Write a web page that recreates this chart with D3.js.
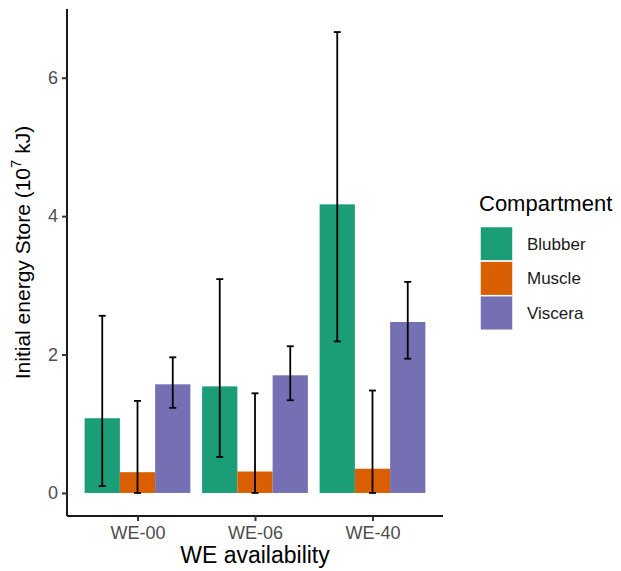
<!DOCTYPE html>
<html>
<head>
<meta charset="utf-8">
<script src="https://cdn.jsdelivr.net/npm/d3@7"></script>
<style>
  body { margin: 0; background: #fff; }
  svg { font-family: Arial, "Liberation Sans", sans-serif; }
</style>
</head>
<body>
<svg id="chart" width="621" height="571"></svg>
<script>
// ——— data (10^7 kJ) ————————————————————————————
const groups       = ["WE-00", "WE-06", "WE-40"];
const compartments = ["Blubber", "Muscle", "Viscera"];
const colours      = ["#1B9E77", "#D95F02", "#7570B3"];

const blubber    = [1.08, 1.54, 4.17];
const blubberLo  = [0.10, 0.52, 2.19];
const blubberHi  = [2.56, 3.09, 6.66];

const muscle     = [0.30, 0.31, 0.35];
const muscleLo   = [0.00, 0.00, 0.00];
const muscleHi   = [1.33, 1.44, 1.48];

const viscera    = [1.57, 1.70, 2.47];
const visceraLo  = [1.23, 1.34, 1.94];
const visceraHi  = [1.96, 2.12, 3.05];

const yTicks = [0, 2, 4, 6];

const series = [
  {name: "Blubber", mean: blubber, lo: blubberLo, hi: blubberHi},
  {name: "Muscle",  mean: muscle,  lo: muscleLo,  hi: muscleHi},
  {name: "Viscera", mean: viscera, lo: visceraLo, hi: visceraHi},
];
const rows = series.flatMap(s => groups.map((g, i) => ({
  group: g, comp: s.name, value: s.mean[i], lo: s.lo[i], hi: s.hi[i]
})));

// ——— layout ———————————————————————————————————————
const svg = d3.select("#chart");
const panel = {left: 67, right: 443, top: 9, bottom: 516};

// ggplot-ish expansion: 5% continuous, 0.6 units discrete
const yMax = d3.max(rows, d => d.hi);
const y = d3.scaleLinear()
  .domain([-0.05 * yMax, yMax * 1.05])
  .range([panel.bottom, panel.top]);

const x = d3.scalePoint()
  .domain(groups)
  .range([panel.left, panel.right])
  .padding(0.6);
const step = x.step();
// bars dodged across 0.9 of a step
const xSub = d3.scaleBand()
  .domain(compartments)
  .range([-0.45 * step, 0.45 * step]);
const colour = d3.scaleOrdinal(compartments, colours);

// ——— bars ——————————————————————————————————————————
svg.append("g")
  .selectAll("rect").data(rows).join("rect")
    .attr("x", d => x(d.group) + xSub(d.comp))
    .attr("y", d => y(d.value))
    .attr("width", xSub.bandwidth())
    .attr("height", d => y(0) - y(d.value))
    .attr("fill", d => colour(d.comp));

// ——— error bars —————————————————————————————————————
const capW = 3.5;
const eb = svg.append("g")
  .attr("stroke", "#000")
  .attr("stroke-width", 1.8)
  .selectAll("g").data(rows).join("g")
    .attr("transform", d =>
      `translate(${x(d.group) + xSub(d.comp) + xSub.bandwidth() / 2},0)`);
eb.append("line")
  .attr("y1", d => y(d.lo)).attr("y2", d => y(d.hi));
eb.append("line")
  .attr("x1", -capW).attr("x2", capW)
  .attr("y1", d => y(d.hi)).attr("y2", d => y(d.hi));
eb.append("line")
  .attr("x1", -capW).attr("x2", capW)
  .attr("y1", d => y(d.lo)).attr("y2", d => y(d.lo));

// ——— axes ————————————————————————————————————————————
const yAxis = svg.append("g")
  .attr("transform", `translate(${panel.left},0)`)
  .call(d3.axisLeft(y).tickValues(yTicks).tickSize(5).tickPadding(4));
const xAxis = svg.append("g")
  .attr("transform", `translate(0,${panel.bottom})`)
  .call(d3.axisBottom(x).tickSize(5).tickPadding(5));

for (const ax of [yAxis, xAxis]) {
  ax.attr("font-size", null).attr("font-family", null);
  ax.select(".domain").attr("stroke", "#1a1a1a").attr("stroke-width", 2);
  ax.selectAll(".tick line").attr("stroke", "#333").attr("stroke-width", 2);
  ax.selectAll(".tick text")
    .attr("fill", "#4D4D4D")
    .style("font-size", "18px");
}
// ggplot draws the axis line only across the panel, no end ticks
yAxis.select(".domain").attr("d", `M0,${panel.top}V${panel.bottom}`);
xAxis.select(".domain").attr("d", `M${panel.left},0H${panel.right}`);

// ——— axis titles ———————————————————————————————————
svg.append("text")
  .attr("x", (panel.left + panel.right) / 2)
  .attr("y", 563)
  .attr("text-anchor", "middle")
  .style("font-size", "23px")
  .attr("fill", "#000")
  .text("WE availability");

const yTitle = svg.append("text")
  .attr("transform", `translate(30,${(panel.top + panel.bottom) / 2 - 10}) rotate(-90)`)
  .attr("text-anchor", "middle")
  .style("font-size", "21px")
  .attr("fill", "#000");
yTitle.append("tspan").text("Initial energy Store (10");
yTitle.append("tspan").attr("dy", -9).style("font-size", "15px").text("7");
yTitle.append("tspan").attr("dy", 9).text(" kJ)");

// ——— legend ————————————————————————————————————————
const legend = svg.append("g").attr("transform", "translate(480,0)");
legend.append("text")
  .attr("x", -1).attr("y", 211)
  .style("font-size", "22px")
  .attr("fill", "#000")
  .text("Compartment");

const keyH = 34.6, keyW = 33, keyTop = 226.5;
const item = legend.selectAll("g.item").data(compartments).join("g")
  .attr("class", "item")
  .attr("transform", (d, i) => `translate(0,${keyTop + i * keyH})`);
item.append("rect")
  .attr("width", keyW).attr("height", keyH)
  .attr("fill", d => colour(d))
  .attr("stroke", "#fff").attr("stroke-width", 1.5);
item.append("text")
  .attr("x", 47).attr("y", keyH / 2)
  .attr("dy", "0.35em")
  .style("font-size", "17px")
  .attr("fill", "#1a1a1a")
  .text(d => d);
</script>
</body>
</html>
